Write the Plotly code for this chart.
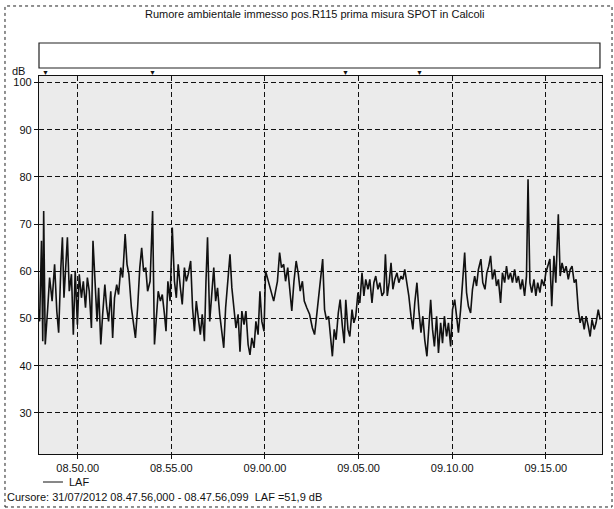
import plotly.graph_objects as go

# LAF level trace, 31/07/2012
DAY = "2012-07-31"
times = [
    "08:47:56", "08:47:58", "08:48:04", "08:48:08", "08:48:11", "08:48:16", "08:48:24", "08:48:30",
    "08:48:38", "08:48:46", "08:48:53", "08:48:59", "08:49:06", "08:49:11", "08:49:16", "08:49:23",
    "08:49:27", "08:49:33", "08:49:40", "08:49:46", "08:49:52", "08:49:59", "08:50:05", "08:50:12",
    "08:50:18", "08:50:25", "08:50:31", "08:50:37", "08:50:44", "08:50:49", "08:50:56", "08:51:02",
    "08:51:07", "08:51:14", "08:51:20", "08:51:27", "08:51:33", "08:51:39", "08:51:46", "08:51:52",
    "08:51:58", "08:52:05", "08:52:11", "08:52:18", "08:52:24", "08:52:32", "08:52:38", "08:52:44",
    "08:52:52", "08:52:58", "08:53:05", "08:53:12", "08:53:19", "08:53:25", "08:53:31", "08:53:38",
    "08:53:44", "08:53:52", "08:54:00", "08:54:06", "08:54:12", "08:54:18", "08:54:25", "08:54:31",
    "08:54:38", "08:54:43", "08:54:49", "08:54:56", "08:55:03", "08:55:10", "08:55:16", "08:55:22",
    "08:55:29", "08:55:35", "08:55:42", "08:55:48", "08:55:54", "08:56:02", "08:56:08", "08:56:14",
    "08:56:20", "08:56:27", "08:56:33", "08:56:39", "08:56:46", "08:56:51", "08:56:56", "08:57:03",
    "08:57:09", "08:57:16", "08:57:22", "08:57:28", "08:57:35", "08:57:41", "08:57:48", "08:57:54",
    "08:58:00", "08:58:08", "08:58:14", "08:58:21", "08:58:27", "08:58:34", "08:58:40", "08:58:46",
    "08:58:53", "08:58:59", "08:59:06", "08:59:12", "08:59:18", "08:59:25", "08:59:31", "08:59:38",
    "08:59:44", "08:59:50", "08:59:57", "09:00:02", "09:00:08", "09:00:15", "09:00:21", "09:00:28",
    "09:00:34", "09:00:40", "09:00:47", "09:00:53", "09:01:00", "09:01:06", "09:01:13", "09:01:19",
    "09:01:26", "09:01:33", "09:01:40", "09:01:47", "09:01:53", "09:02:00", "09:02:06", "09:02:14",
    "09:02:23", "09:02:32", "09:02:39", "09:02:45", "09:02:57", "09:03:05", "09:03:11", "09:03:17",
    "09:03:24", "09:03:30", "09:03:36", "09:03:42", "09:03:48", "09:03:55", "09:04:01", "09:04:08",
    "09:04:14", "09:04:19", "09:04:26", "09:04:32", "09:04:39", "09:04:45", "09:04:51", "09:04:58",
    "09:05:04", "09:05:11", "09:05:17", "09:05:23", "09:05:30", "09:05:36", "09:05:43", "09:05:49",
    "09:05:55", "09:06:02", "09:06:08", "09:06:15", "09:06:21", "09:06:26", "09:06:32", "09:06:38",
    "09:06:44", "09:06:50", "09:06:56", "09:07:03", "09:07:09", "09:07:16", "09:07:22", "09:07:28",
    "09:07:35", "09:07:41", "09:07:48", "09:07:54", "09:08:00", "09:08:07", "09:08:13", "09:08:20",
    "09:08:26", "09:08:32", "09:08:39", "09:08:45", "09:08:51", "09:08:57", "09:09:03", "09:09:10",
    "09:09:16", "09:09:23", "09:09:29", "09:09:35", "09:09:42", "09:09:48", "09:09:55", "09:10:01",
    "09:10:08", "09:10:14", "09:10:20", "09:10:27", "09:10:33", "09:10:40", "09:10:46", "09:10:52",
    "09:10:59", "09:11:05", "09:11:12", "09:11:18", "09:11:24", "09:11:32", "09:11:38", "09:11:45",
    "09:11:51", "09:11:57", "09:12:03", "09:12:09", "09:12:16", "09:12:22", "09:12:28", "09:12:35",
    "09:12:41", "09:12:48", "09:12:54", "09:13:00", "09:13:07", "09:13:13", "09:13:20", "09:13:26",
    "09:13:32", "09:13:39", "09:13:45", "09:13:52", "09:13:58", "09:14:03", "09:14:09", "09:14:15",
    "09:14:22", "09:14:28", "09:14:34", "09:14:41", "09:14:47", "09:14:54", "09:15:00", "09:15:06",
    "09:15:13", "09:15:19", "09:15:26", "09:15:32", "09:15:40", "09:15:46", "09:15:52", "09:15:59",
    "09:16:05", "09:16:12", "09:16:18", "09:16:24", "09:16:31", "09:16:37", "09:16:44", "09:16:50",
    "09:16:56", "09:17:03", "09:17:09", "09:17:16", "09:17:22", "09:17:28", "09:17:35", "09:17:41",
    "09:17:48", "09:17:54",
]
laf_db = [
    51.9, 49.4, 66.5, 45.2, 72.8, 44.5, 52.3, 58.7,
    53.7, 61.5, 51.6, 47.0, 60.8, 67.2, 54.4, 61.5,
    67.2, 55.8, 59.4, 46.6, 60.1, 48.7, 59.4, 54.4,
    57.9, 52.3, 58.7, 55.8, 48.0, 66.5, 57.9, 49.4,
    56.5, 44.5, 50.9, 57.2, 52.3, 49.4, 55.8, 45.9,
    54.4, 57.2, 55.1, 60.8, 58.7, 67.9, 61.5, 59.4,
    52.3, 49.4, 45.9, 52.3, 60.8, 65.0, 60.1, 60.8,
    55.8, 57.9, 72.8, 44.5, 49.4, 55.8, 53.7, 55.1,
    50.9, 47.3, 57.9, 53.7, 69.3, 57.9, 54.4, 61.5,
    56.5, 53.0, 60.8, 57.9, 59.4, 62.2, 52.3, 47.3,
    53.7, 49.4, 46.6, 50.9, 45.2, 57.9, 67.2, 49.4,
    55.8, 60.8, 53.7, 56.5, 50.9, 48.0, 43.8, 52.3,
    57.9, 63.6, 56.5, 52.3, 48.0, 50.9, 43.0, 51.6,
    48.7, 51.6, 44.5, 42.3, 45.9, 43.8, 49.4, 46.6,
    55.8, 49.4, 47.3, 60.1, 58.7, 56.5, 55.1, 53.7,
    55.8, 57.9, 64.0, 60.8, 61.5, 57.9, 60.8, 55.8,
    51.6, 57.9, 62.2, 59.4, 55.8, 57.9, 53.7, 52.3,
    50.9, 48.0, 46.6, 50.2, 57.6, 62.6, 51.9, 49.8,
    50.5, 45.5, 42.0, 47.7, 45.5, 51.2, 54.0, 48.4,
    44.8, 54.0, 47.7, 46.2, 51.9, 49.1, 50.5, 55.5,
    53.3, 59.7, 54.8, 58.3, 56.2, 58.3, 53.3, 57.6,
    59.0, 56.2, 57.6, 54.8, 55.5, 63.6, 54.8, 57.6,
    61.8, 56.2, 58.3, 59.7, 57.6, 59.0, 58.3, 60.4,
    57.6, 54.8, 50.5, 47.7, 53.3, 57.6, 51.9, 47.0,
    50.5, 45.5, 42.0, 49.1, 54.0, 47.7, 44.1, 50.5,
    42.7, 49.1, 44.8, 50.5, 46.2, 49.1, 44.1, 51.9,
    54.0, 50.5, 47.0, 51.9, 57.6, 64.0, 55.5, 52.6,
    51.2, 56.2, 59.0, 56.9, 60.4, 62.6, 57.6, 56.2,
    59.7, 61.1, 63.3, 58.3, 60.4, 56.9, 58.3, 53.3,
    59.7, 57.6, 61.1, 58.3, 59.7, 57.6, 60.4, 57.6,
    59.0, 56.2, 58.3, 54.8, 59.0, 79.5, 57.6, 55.5,
    58.3, 54.8, 57.6, 55.5, 58.3, 56.9, 59.7, 61.1,
    62.6, 52.6, 63.3, 57.6, 72.1, 59.0, 61.8, 59.7,
    61.1, 58.3, 60.4, 61.1, 57.6, 58.3, 51.9, 49.1,
    50.5, 47.7, 50.5, 48.4, 46.2, 49.8, 47.7, 49.1,
    51.9, 49.8,
]
y_ticks = [30, 40, 50, 60, 70, 80, 90, 100]
marker_times = ["08:48:18", "08:54:00", "09:04:17", "09:08:14"]

TITLE = "Rumore ambientale immesso pos.R115 prima misura SPOT in Calcoli"
CURSOR = "Cursore: 31/07/2012 08.47.56,000 - 08.47.56,099  LAF =51,9 dB"
FONT = "Liberation Sans, Arial, sans-serif"
INK = "#111111"

x_vals = [f"{DAY} {t}" for t in times]
x_start = f"{DAY} 08:47:56"
x_end = f"{DAY} 09:18:00"

fig = go.Figure()
fig.add_trace(go.Scatter(
    x=x_vals, y=laf_db, mode="lines", name="LAF",
    line=dict(color=INK, width=1.6),
    showlegend=False,
))

grid = dict(showgrid=True, gridcolor=INK, gridwidth=1.4, griddash="5px,3px",
            ticks="outside", ticklen=4, tickcolor=INK,
            showline=True, linecolor=INK, linewidth=1.2, mirror=True,
            zeroline=False, tickfont=dict(size=11))

fig.update_layout(
    width=614, height=509,
    margin=dict(l=39, r=12, t=76, b=55),
    paper_bgcolor="white",
    plot_bgcolor="#ebebeb",
    font=dict(family=FONT, size=11, color=INK),
    xaxis=dict(type="date", range=[x_start, x_end],
               tick0=f"{DAY} 08:50:00", dtick=300000, tickformat="%H.%M.%S", **grid),
    yaxis=dict(range=[21.3, 101.4], tickvals=y_ticks, **grid),
    shapes=[
        # outer frame
        dict(type="rect", xref="paper", yref="paper", x0=-0.0604, x1=1.0178, y0=-0.1402, y1=1.1852,
             line=dict(color="#222222", width=1, dash="dot"), layer="below"),
        # empty box above the plot
        dict(type="rect", xref="paper", yref="paper", x0=0.0, x1=0.9964, y0=1.0212, y1=1.0873,
             line=dict(color="#222222", width=1.2)),
        # legend line
        dict(type="line", xref="paper", yref="paper", x0=0.0071, x1=0.0426, y0=-0.0741, y1=-0.0741,
             line=dict(color=INK, width=1)),
    ],
)

# event markers above the plot area
for t in marker_times:
    fig.add_annotation(
        x=f"{DAY} {t}", y=1.0085, xref="x", yref="paper",
        text="▼", showarrow=False, font=dict(size=7, color=INK),
        xanchor="center", yanchor="middle",
    )

fig.add_annotation(x=0.49, y=1.164, xref="paper", yref="paper", text=TITLE,
                   showarrow=False, font=dict(size=11), xanchor="center", yanchor="middle")
fig.add_annotation(x=-0.022, y=1.013, xref="paper", yref="paper", text="dB",
                   showarrow=False, font=dict(size=11), xanchor="right", yanchor="middle")
fig.add_annotation(x=0.05, y=-0.0741, xref="paper", yref="paper", text="LAF",
                   showarrow=False, font=dict(size=11), xanchor="left", yanchor="middle")
fig.add_annotation(x=-0.0605, y=-0.1138, xref="paper", yref="paper", text=CURSOR,
                   showarrow=False, font=dict(size=11), xanchor="left", yanchor="middle")

fig.write_html("out.html")
